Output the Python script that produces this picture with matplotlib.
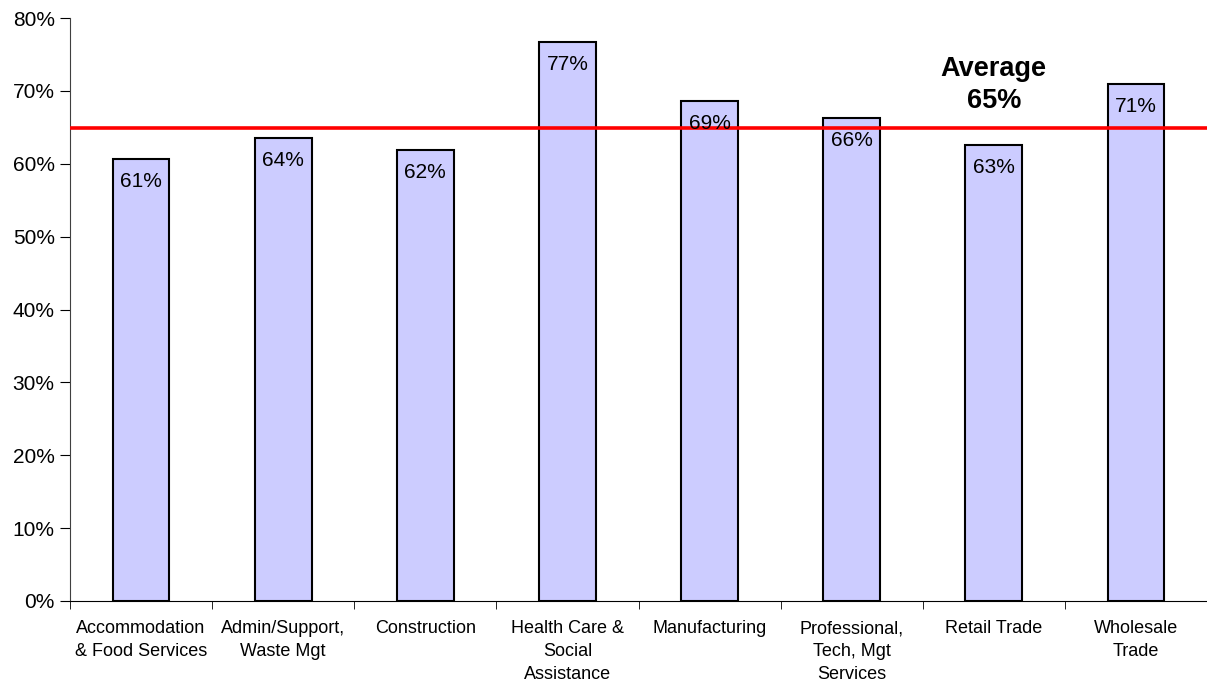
import matplotlib.pyplot as plt
import numpy as np
from matplotlib.ticker import FixedLocator, PercentFormatter

plt.rcParams['font.family'] = ['Liberation Sans', 'DejaVu Sans']

categories = ["Accommodation\n& Food Services", "Admin/Support,\nWaste Mgt",
              "Construction", "Health Care &\nSocial\nAssistance",
              "Manufacturing", "Professional,\nTech, Mgt\nServices",
              "Retail Trade", "Wholesale\nTrade"]
shares = [60.6, 63.5, 61.9, 76.7, 68.6, 66.3, 62.6, 70.9]
average = 64.9

W, H = 1207, 683
fig = plt.figure(figsize=(W / 100, H / 100), dpi=100)
ax = fig.add_axes([70 / W, (H - 601) / H, (W - 70) / W, (601 - 18) / H])

x = np.arange(len(categories))
bars = ax.bar(x, shares, width=0.4, color='#CCCCFF', edgecolor='black',
              linewidth=1.5, zorder=2)

for xi, v in zip(x, shares):
    ax.annotate(f"{round(v)}%", (xi, v), xytext=(0, -16), textcoords='offset points',
                ha='center', va='center', fontsize=15, zorder=4)

ax.axhline(average, color='red', linewidth=2.6, zorder=3)
ax.text(6, 70.8, f"Average\n{round(average)}%", ha='center', va='center',
        fontsize=19.5, fontweight='bold', linespacing=1.3)

ax.set_ylim(0, 80)
ax.set_xlim(-0.5, 7.5 - 7 / 143)
ax.yaxis.set_major_locator(FixedLocator(np.arange(0, 81, 10)))
ax.yaxis.set_major_formatter(PercentFormatter(decimals=0))
ax.tick_params(axis='y', labelsize=15, length=7, direction='out', pad=4)

ax.set_xticks(x)
ax.set_xticklabels(categories, fontsize=13, linespacing=1.43)
ax.set_xticks(np.arange(-0.5, 8, 1), minor=True)
ax.tick_params(axis='x', which='major', length=0, pad=14)
ax.tick_params(axis='x', which='minor', length=6)

for side in ('top', 'right'):
    ax.spines[side].set_visible(False)
ax.spines['left'].set_color('#404040')
ax.spines['bottom'].set_color('black')

fig.savefig('out.png', dpi=100)
